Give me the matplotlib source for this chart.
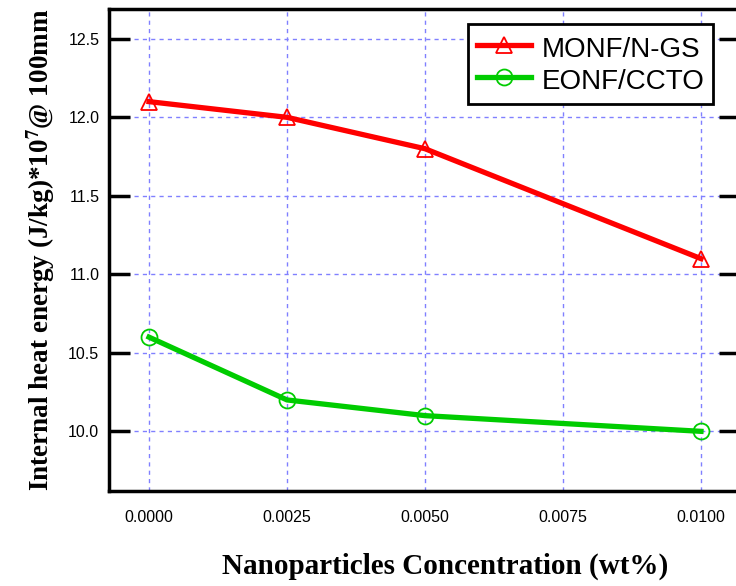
import matplotlib
matplotlib.use("Agg")
import matplotlib.pyplot as plt

conc = [0.0, 0.0025, 0.005, 0.01]
monf = [12.1, 12.0, 11.8, 11.1]
eonf = [10.6, 10.2, 10.1, 10.0]
xticks = [0.0, 0.0025, 0.005, 0.0075, 0.01]
xticklabels = ["0.0000", "0.0025", "0.0050", "0.0075", "0.0100"]
yticks = [10.0, 10.5, 11.0, 11.5, 12.0, 12.5]

plt.rcParams['mathtext.fontset'] = 'stix'

fig = plt.figure(figsize=(7.36, 5.86), dpi=100)
W, H = 736, 586
l, r, t, b = 109, 740, 9, 491
ax = fig.add_axes([l / W, 1 - b / H, (r - l) / W, (b - t) / H])

ax.plot(conc, monf, color='#ff0000', lw=3.8, marker='^', ms=12, mfc='none',
        mec='#ff0000', mew=1.3, label='MONF/N-GS', zorder=3)
ax.plot(conc, eonf, color='#00cc00', lw=3.8, marker='o', ms=11.5, mfc='none',
        mec='#00cc00', mew=1.3, label='EONF/CCTO', zorder=3)

ax.set_xlim(-0.000725, 0.010707)
ax.set_ylim(9.62, 12.69)
ax.set_xticks(xticks)
ax.set_xticklabels(xticklabels)
ax.set_yticks(yticks)
ax.set_yticklabels([f"{v:.1f}" for v in yticks])

ax.grid(True, color='#8080ff', ls=(0, (3, 3)), lw=1, zorder=2)
for s in ax.spines.values():
    s.set_linewidth(2.5)

ax.tick_params(axis='y', direction='in', length=15, width=2.5, pad=7,
               labelsize=11.5, right=True, left=True)
ax.tick_params(axis='x', length=0, pad=14, labelsize=11.5)
for lab in ax.get_xticklabels() + ax.get_yticklabels():
    lab.set_fontfamily('Liberation Sans')

ax.set_xlabel('Nanoparticles Concentration (wt%)', fontfamily='Liberation Serif',
              fontweight='bold', fontsize=21)
ax.xaxis.set_label_coords((445 - l) / (r - l), -(566 - b) / (b - t), transform=ax.transAxes)
ax.xaxis.label.set_verticalalignment('center')
ax.set_ylabel(r'Internal heat energy (J/kg)*10$^{\mathbf{7}}$@ 100mm',
              fontfamily='Liberation Serif', fontweight='bold', fontsize=19.5,
              labelpad=8)

leg = ax.legend(loc='upper right', bbox_to_anchor=((713 - l) / (r - l), 1 - (24 - t) / (b - t)),
                prop={'family': 'Liberation Sans', 'size': 20}, frameon=True,
                fancybox=False, shadow=False, edgecolor='black', borderpad=0.3,
                handlelength=1.95, handleheight=1.38, handletextpad=0.4,
                labelspacing=0.0, borderaxespad=0)
leg.get_frame().set_linewidth(2)
leg.get_frame().set_alpha(1)

fig.savefig('out.png', dpi=100)
